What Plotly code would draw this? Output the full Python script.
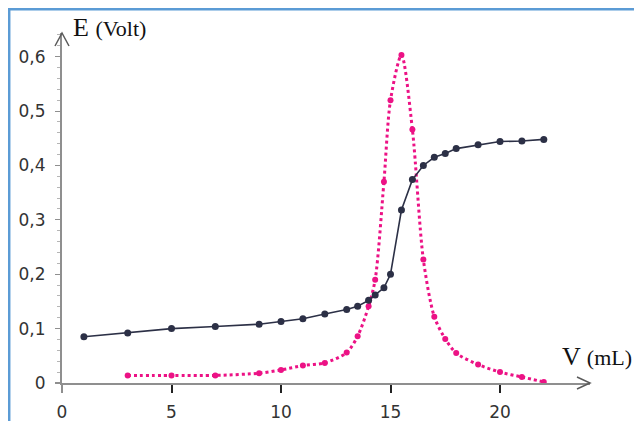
import plotly.graph_objects as go

# Data
V_E = [1, 3, 5, 7, 9, 10, 11, 12, 13, 13.5, 14, 14.3, 14.7, 15, 15.5, 16, 16.5, 17, 17.5, 18, 19, 20, 21, 22]
E_volt = [0.085, 0.092, 0.100, 0.104, 0.108, 0.113, 0.118, 0.127, 0.135, 0.141, 0.152, 0.162, 0.175, 0.200,
          0.318, 0.374, 0.400, 0.415, 0.422, 0.431, 0.438, 0.444, 0.445, 0.448]

V_D = [3, 5, 7, 9, 10, 11, 12, 13, 13.5, 14, 14.3, 14.7, 15, 15.5, 16, 16.5, 17, 17.5, 18, 19, 20, 21, 22]
D_vals = [0.014, 0.014, 0.014, 0.018, 0.024, 0.032, 0.037, 0.056, 0.086, 0.141, 0.190, 0.370, 0.520, 0.603,
          0.466, 0.227, 0.122, 0.081, 0.055, 0.034, 0.020, 0.011, 0.002]

x_tickvals = [0, 5, 10, 15, 20]
x_ticktext = ["0", "5", "10", "15", "20"]
y_tickvals = [0, 0.1, 0.2, 0.3, 0.4, 0.5, 0.6]
y_ticktext = ["0", "0,1", "0,2", "0,3", "0,4", "0,5", "0,6"]

OFF = 8  # page body margin
W, H = 642 - OFF, 421 - OFF
ML, MR, MT, MB = 62 - OFF, 52, 33 - OFF, 38
PW, PH = W - ML - MR, H - MT - MB
XPX = 21.9      # pixels per mL
YPX = 543.8     # pixels per volt


def px(xr):
    """reference-image x pixel -> paper coordinate"""
    return (xr - OFF - ML) / PW


def py(yr):
    """reference-image y pixel -> paper coordinate"""
    return (H - MB - (yr - OFF)) / PH


fig = go.Figure()

fig.add_trace(go.Scatter(
    x=V_D, y=D_vals, mode="lines+markers",
    line=dict(color="#ec1285", width=3, dash="dot", shape="spline", smoothing=0.8),
    marker=dict(color="#ec1285", size=6),
    cliponaxis=False, showlegend=False, hoverinfo="skip"))

fig.add_trace(go.Scatter(
    x=V_E, y=E_volt, mode="lines+markers",
    line=dict(color="#2c3046", width=1.6),
    marker=dict(color="#2c3046", size=7),
    cliponaxis=False, showlegend=False, hoverinfo="skip"))

axis_col = "#8f8f8f"
arrow_col = "#5a5a5a"
border_col = "#5b9bd5"

top_y = OFF + 1.3  # topmost drawable row

shapes = [
    # blue frame
    dict(type="line", xref="paper", yref="paper", x0=px(OFF + 1.2), x1=px(OFF + 1.2), y0=py(top_y), y1=py(430),
         line=dict(color=border_col, width=2.5)),
    dict(type="line", xref="paper", yref="paper", x0=px(OFF), x1=px(650), y0=py(top_y), y1=py(top_y),
         line=dict(color=border_col, width=2.5)),
    # axis stubs
    dict(type="line", xref="paper", yref="paper", x0=0, x1=0, y0=0, y1=py(393),
         line=dict(color=axis_col, width=2)),
    dict(type="line", xref="paper", yref="paper", x0=px(55), x1=0, y0=0, y1=0,
         line=dict(color=axis_col, width=2)),
    # arrow heads
    dict(type="path", xref="paper", yref="paper",
         path=f"M {px(55)},{py(46)} L 0,1 L {px(69)},{py(46)}",
         line=dict(color=arrow_col, width=1.5)),
    dict(type="path", xref="paper", yref="paper",
         path=f"M {px(577)},{py(377)} L 1,0 L {px(577)},{py(389)}",
         line=dict(color=arrow_col, width=1.5)),
]

annotations = [
    dict(xref="paper", yref="paper", x=px(71), y=py(27), xanchor="left", yanchor="middle",
         text="E <span style='font-size:22px'>(Volt)</span>", showarrow=False,
         font=dict(family="Liberation Serif, Times New Roman, serif", size=26, color="#111")),
    dict(xref="paper", yref="paper", x=px(560), y=py(356), xanchor="left", yanchor="middle",
         text="V <span style='font-size:22px'>(mL)</span>", showarrow=False,
         font=dict(family="Liberation Serif, Times New Roman, serif", size=26, color="#111")),
]

tick_font = dict(family="DejaVu Sans, Verdana, sans-serif", size=17, color="#333")

fig.update_layout(
    width=W, height=H,
    margin=dict(l=ML, r=MR, t=MT, b=MB, autoexpand=False),
    paper_bgcolor="white", plot_bgcolor="white",
    separators=", ",
    shapes=shapes, annotations=annotations,
    xaxis=dict(range=[0, PW / XPX], showgrid=False, zeroline=False,
               showline=True, linecolor=axis_col, linewidth=2,
               tickvals=x_tickvals, ticktext=x_ticktext,
               ticks="outside", ticklen=8, tickwidth=2, tickcolor="#222",
               ticklabelstandoff=5, tickfont=tick_font, fixedrange=True),
    yaxis=dict(range=[0, PH / YPX], showgrid=False, zeroline=False,
               showline=True, linecolor=axis_col, linewidth=2,
               tickvals=y_tickvals, ticktext=y_ticktext,
               ticks="outside", ticklen=5, tickwidth=1, tickcolor=axis_col,
               minor=dict(ticks="outside", ticklen=3, dtick=0.02, tickcolor="#b5b5b5", showgrid=False),
               ticklabelstandoff=6, tickfont=tick_font, fixedrange=True),
)

fig.write_html("out.html")
